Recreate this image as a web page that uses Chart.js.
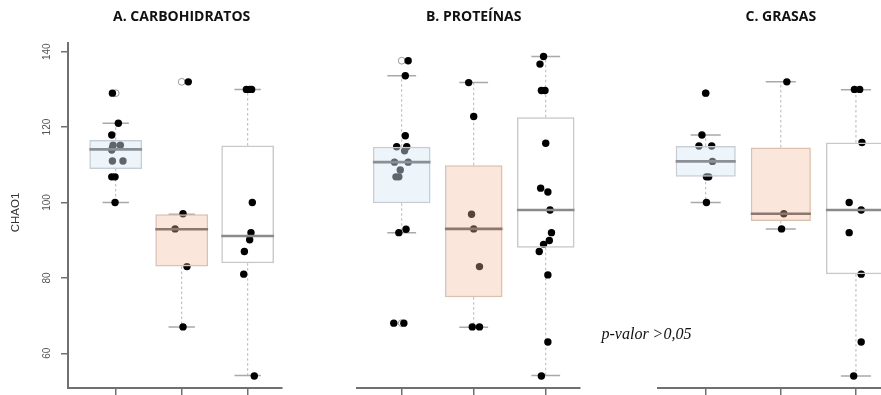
<!DOCTYPE html>
<html>
<head>
<meta charset="utf-8">
<script src="https://cdn.jsdelivr.net/npm/chart.js@4.4.1/dist/chart.umd.min.js"></script>
<style>
html,body{margin:0;padding:0;background:#fff;overflow:hidden;width:881px;height:395px}
.panel{position:absolute;top:0;height:395px}
</style>
</head>
<body>
<div class="panel" style="left:0;width:300px"><canvas id="cA"></canvas></div>
<div class="panel" style="left:300px;width:290px"><canvas id="cB"></canvas></div>
<div class="panel" style="left:600px;width:300px"><canvas id="cC"></canvas></div>
<script>
const TITLES = ['A. CARBOHIDRATOS', 'B. PROTEÍNAS', 'C. GRASAS'];
const GROUPS = [1, 2, 3];
const Y_TICKS = [60, 80, 100, 120, 140];
const Y_LABEL = 'CHAO1';
const NOTE = 'p-valor >0,05';

// A. carbohidratos
const A_low = [100, 67, 54.1];
const A_q1 = [108.9, 83.0, 83.9];
const A_median = [114.1, 92.9, 91.1];
const A_q3 = [116.6, 96.9, 115.1];
const A_high = [121, 96.9, 130];
const A_outliers = [[1, 129], [2, 132]];
const A_points = [
  [0.95, 129], [1.04, 121], [0.94, 117.9], [0.96, 115.2], [1.07, 115.2], [0.95, 114.4], [0.94, 113.9],
  [0.95, 111], [1.11, 111], [0.94, 106.8], [0.99, 106.8], [0.99, 100],
  [2.10, 132], [2.02, 97], [1.90, 93], [2.08, 83], [2.02, 67],
  [2.98, 130], [3.03, 130], [3.06, 130], [3.07, 100], [3.05, 92], [3.03, 90.1], [2.95, 87], [2.94, 81], [3.10, 54]
];

// B. proteinas
const B_low = [92, 66.9, 54.1];
const B_q1 = [99.8, 74.9, 88.0];
const B_median = [110.7, 93.0, 98.0];
const B_q3 = [114.8, 109.9, 122.6];
const B_high = [133.6, 131.8, 138.7];
const B_outliers = [[1, 137.6], [1, 68]];
const B_points = [
  [1.09, 137.6], [1.05, 133.6], [1.05, 117.7], [0.93, 114.8], [1.07, 114.8], [1.04, 113.7], [0.90, 110.7],
  [1.09, 110.7], [0.98, 108.6], [0.92, 106.8], [0.96, 106.8], [1.06, 92.9], [0.96, 92.0], [0.89, 68], [1.03, 68],
  [1.93, 131.8], [2.00, 122.8], [1.97, 96.9], [2.00, 93], [2.08, 83], [1.98, 67], [2.08, 67],
  [2.97, 138.7], [2.92, 136.7], [2.94, 129.7], [2.99, 129.7], [3.00, 115.7], [2.93, 103.8], [3.03, 102.8],
  [3.06, 98], [3.08, 92.0], [3.05, 89.9], [2.97, 88.9], [2.91, 87.0], [3.03, 80.8], [3.03, 63], [2.94, 54]
];

// C. grasas
const C_low = [100, 93, 54];
const C_q1 = [106.8, 95.1, 81.0];
const C_median = [110.9, 97.0, 98.0];
const C_q3 = [115.0, 114.6, 115.9];
const C_high = [117.9, 132, 129.9];
const C_outliers = [[1, 129]];
const C_points = [
  [1.00, 129], [0.95, 117.9], [0.91, 115], [1.08, 115], [1.09, 110.9], [1.01, 106.8], [1.04, 106.8], [1.01, 100],
  [2.08, 132], [2.04, 97], [2.01, 93],
  [2.98, 130], [3.05, 130], [3.08, 115.9], [2.91, 100], [3.07, 98], [2.91, 92], [3.07, 81], [3.07, 63], [2.97, 54]
];

const BOX_FILL = ['rgba(214,229,244,0.44)', 'rgba(243,186,158,0.36)', 'rgba(255,255,255,0)'];
const BOX_EDGE = ['#c6cdd5', '#dcc1b0', '#c9c9c9'];
const MEDIAN_COLOR = ['#8c9096', '#8d786b', '#8a8a8a'];
const AXIS_COLOR = '#707070';

function segments(list) {
  const out = [];
  list.forEach(([x1, y1, x2, y2]) => {
    out.push({x: x1, y: y1}, {x: x2, y: y2}, {x: x2, y: null});
  });
  return out;
}

const textPlugin = {
  id: 'panelText',
  afterDraw(chart, args, opts) {
    const ctx = chart.ctx, xs = chart.scales.x, ys = chart.scales.y, area = chart.chartArea;
    ctx.save();
    ctx.textAlign = 'center';
    ctx.textBaseline = 'middle';
    ctx.fillStyle = '#111';
    ctx.font = 'bold 14px "Open Sans"';
    ctx.fillText(opts.title, xs.getPixelForValue(2), 17);
    if (opts.axisText) {
      ctx.fillStyle = '#555';
      ctx.font = '10px "Liberation Sans"';
      Y_TICKS.forEach(v => {
        ctx.save();
        ctx.translate(area.left - 21, ys.getPixelForValue(v));
        ctx.rotate(-Math.PI / 2);
        ctx.fillText(String(v), 0, 0);
        ctx.restore();
      });
      ctx.fillStyle = '#333';
      ctx.font = '11.5px "Liberation Sans"';
      ctx.save();
      ctx.translate(16, (area.top + area.bottom) / 2 - 3);
      ctx.rotate(-Math.PI / 2);
      ctx.fillText(Y_LABEL, 0, 0);
      ctx.restore();
    }
    if (opts.note) {
      ctx.fillStyle = '#111';
      ctx.textAlign = 'left';
      ctx.textBaseline = 'alphabetic';
      ctx.font = 'italic 16px "Liberation Serif"';
      ctx.fillText(NOTE, 1.5, 339);
    }
    ctx.restore();
  }
};

function makePanel(id, title, low, q1, median, q3, high, outliers, points, opts) {
  const whiskers = [], caps = [], medians = [];
  GROUPS.forEach((g, i) => {
    whiskers.push([g, q3[i], g, high[i]], [g, q1[i], g, low[i]]);
    caps.push([g - 0.2, high[i], g + 0.2, high[i]], [g - 0.2, low[i], g + 0.2, low[i]]);
    medians.push([g - 0.4, median[i], g + 0.4, median[i]]);
  });
  const firstPanel = !!opts.axisText;
  return new Chart(document.getElementById(id), {
    type: 'bar',
    data: {
      datasets: [
        {type: 'line', data: segments(medians), order: 0, borderColor: '#8a8a8a',
          segment: {borderColor: c => MEDIAN_COLOR[Math.floor(c.p0DataIndex / 3)]},
          borderWidth: 2.6, pointRadius: 0, spanGaps: false, fill: false},
        {type: 'bar', data: GROUPS.map((g, i) => ({x: g, y: [q1[i], q3[i]]})), order: 1,
          backgroundColor: BOX_FILL, borderColor: BOX_EDGE, borderWidth: 1.5, borderSkipped: false,
          barPercentage: 0.8, categoryPercentage: 1},
        {type: 'scatter', data: points.map(p => ({x: p[0], y: p[1]})), order: 2,
          pointRadius: 3.7, backgroundColor: '#000', borderWidth: 0},
        {type: 'scatter', data: outliers.map(p => ({x: p[0], y: p[1]})), order: 3,
          pointRadius: 3.4, backgroundColor: '#fff', borderColor: '#9a9a9a', borderWidth: 1},
        {type: 'line', data: segments(caps), order: 4, borderColor: '#a9a9a9', borderWidth: 1.5,
          pointRadius: 0, spanGaps: false, fill: false},
        {type: 'line', data: segments(whiskers), order: 5, borderColor: '#b5b5b5', borderWidth: 1,
          borderDash: [2.5, 2.5], pointRadius: 0, spanGaps: false, fill: false}
      ]
    },
    options: {
      responsive: true,
      maintainAspectRatio: false,
      animation: false,
      events: [],
      layout: {padding: {top: 43, bottom: 0, left: opts.padLeft, right: opts.padRight}},
      plugins: {legend: {display: false}, tooltip: {enabled: false}, panelText: {title, axisText: opts.axisText, note: opts.note}},
      scales: {
        x: {
          type: 'linear', min: opts.xMin, max: opts.xMax, offset: false,
          afterBuildTicks: s => { s.ticks = GROUPS.map(v => ({value: v})); },
          afterFit: s => { s.height = 7; },
          ticks: {display: false},
          grid: {display: true, offset: false, drawOnChartArea: false, drawTicks: true, tickLength: 7, color: AXIS_COLOR, lineWidth: 1.5},
          border: {display: true, color: AXIS_COLOR, width: 2}
        },
        y: {
          type: 'linear', min: 50.8, max: 142.3, beginAtZero: false,
          display: firstPanel,
          afterBuildTicks: s => { s.ticks = Y_TICKS.map(v => ({value: v})); },
          afterFit: s => { s.width = firstPanel ? 68 : 0; },
          ticks: {display: false},
          grid: {display: true, drawOnChartArea: false, drawTicks: true, tickLength: 7, color: AXIS_COLOR, lineWidth: 1.5},
          border: {display: true, color: AXIS_COLOR, width: 2}
        }
      }
    },
    plugins: [textPlugin]
  });
}

makePanel('cA', TITLES[0], A_low, A_q1, A_median, A_q3, A_high, A_outliers, A_points,
  {xMin: 0.277, xMax: 3.52, padLeft: 0, padRight: 18, axisText: true});
makePanel('cB', TITLES[1], B_low, B_q1, B_median, B_q3, B_high, B_outliers, B_points,
  {xMin: 0.375, xMax: 3.476, padLeft: 56.7, padRight: 10});
makePanel('cC', TITLES[2], C_low, C_q1, C_median, C_q3, C_high, C_outliers, C_points,
  {xMin: 0.369, xMax: 3.52, padLeft: 58.3, padRight: 5, note: true});
</script>
</body>
</html>
